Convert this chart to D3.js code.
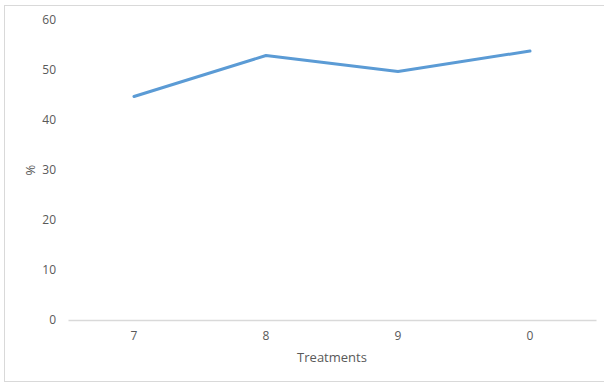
<!DOCTYPE html>
<html>
<head>
<meta charset="utf-8">
<script src="https://cdn.jsdelivr.net/npm/d3@7/dist/d3.min.js"></script>
<style>
  html, body { margin: 0; padding: 0; background: #fff; }
  svg { display: block; }
</style>
</head>
<body>
<svg id="chart" width="604" height="383"></svg>
<script>
// Treatment categories and measured percentages
const categories = ["7", "8", "9", "0"];
const values = [44.7, 52.9, 49.7, 53.8];
const yTicks = [0, 10, 20, 30, 40, 50, 60];

const svg = d3.select("#chart");
const W = 604, H = 383;
const font = "'Open Sans', 'Liberation Sans', sans-serif";
const textColor = "#595959";

// Chart area frame
svg.append("rect")
  .attr("x", 4.5).attr("y", 5.5)
  .attr("width", W + 10).attr("height", 376)
  .attr("fill", "#fff")
  .attr("stroke", "#d9d9d9")
  .attr("stroke-width", 1);

const plot = { left: 68, right: 596, top: 20, bottom: 320 };

const x = d3.scaleBand()
  .domain(categories)
  .range([plot.left, plot.right])
  .paddingInner(0).paddingOuter(0);

const y = d3.scaleLinear()
  .domain([0, 60])
  .range([plot.bottom, plot.top]);

// Y axis labels (no axis line)
const yAxis = d3.axisLeft(y).tickValues(yTicks).tickSize(0).tickPadding(0);
const gy = svg.append("g")
  .attr("transform", `translate(${plot.left - 12},0)`)
  .call(yAxis);
gy.select(".domain").remove();
gy.selectAll("text")
  .attr("font-family", font).attr("font-size", 12)
  .attr("fill", textColor);

// X axis baseline and category labels
const xAxis = d3.axisBottom(x).tickSize(0).tickPadding(11);
const gx = svg.append("g")
  .attr("transform", `translate(0,${plot.bottom})`)
  .call(xAxis);
gx.select(".domain")
  .attr("stroke", "#d9d9d9").attr("stroke-width", 1.5);
gx.selectAll("text")
  .attr("font-family", font).attr("font-size", 12)
  .attr("fill", textColor);

// Series line
const line = d3.line()
  .x((d, i) => x(categories[i]) + x.bandwidth() / 2)
  .y(d => y(d));

svg.append("path")
  .datum(values)
  .attr("d", line)
  .attr("fill", "none")
  .attr("stroke", "#5b9bd5")
  .attr("stroke-width", 3)
  .attr("stroke-linecap", "round")
  .attr("stroke-linejoin", "round");

// Axis titles
svg.append("text")
  .attr("x", (plot.left + plot.right) / 2)
  .attr("y", 362)
  .attr("text-anchor", "middle")
  .attr("font-family", font).attr("font-size", 13)
  .attr("fill", textColor)
  .text("Treatments");

svg.append("text")
  .attr("transform", `translate(35,${(plot.top + plot.bottom) / 2}) rotate(-90)`)
  .attr("text-anchor", "middle")
  .attr("font-family", font).attr("font-size", 13)
  .attr("fill", textColor)
  .text("%");
</script>
</body>
</html>
